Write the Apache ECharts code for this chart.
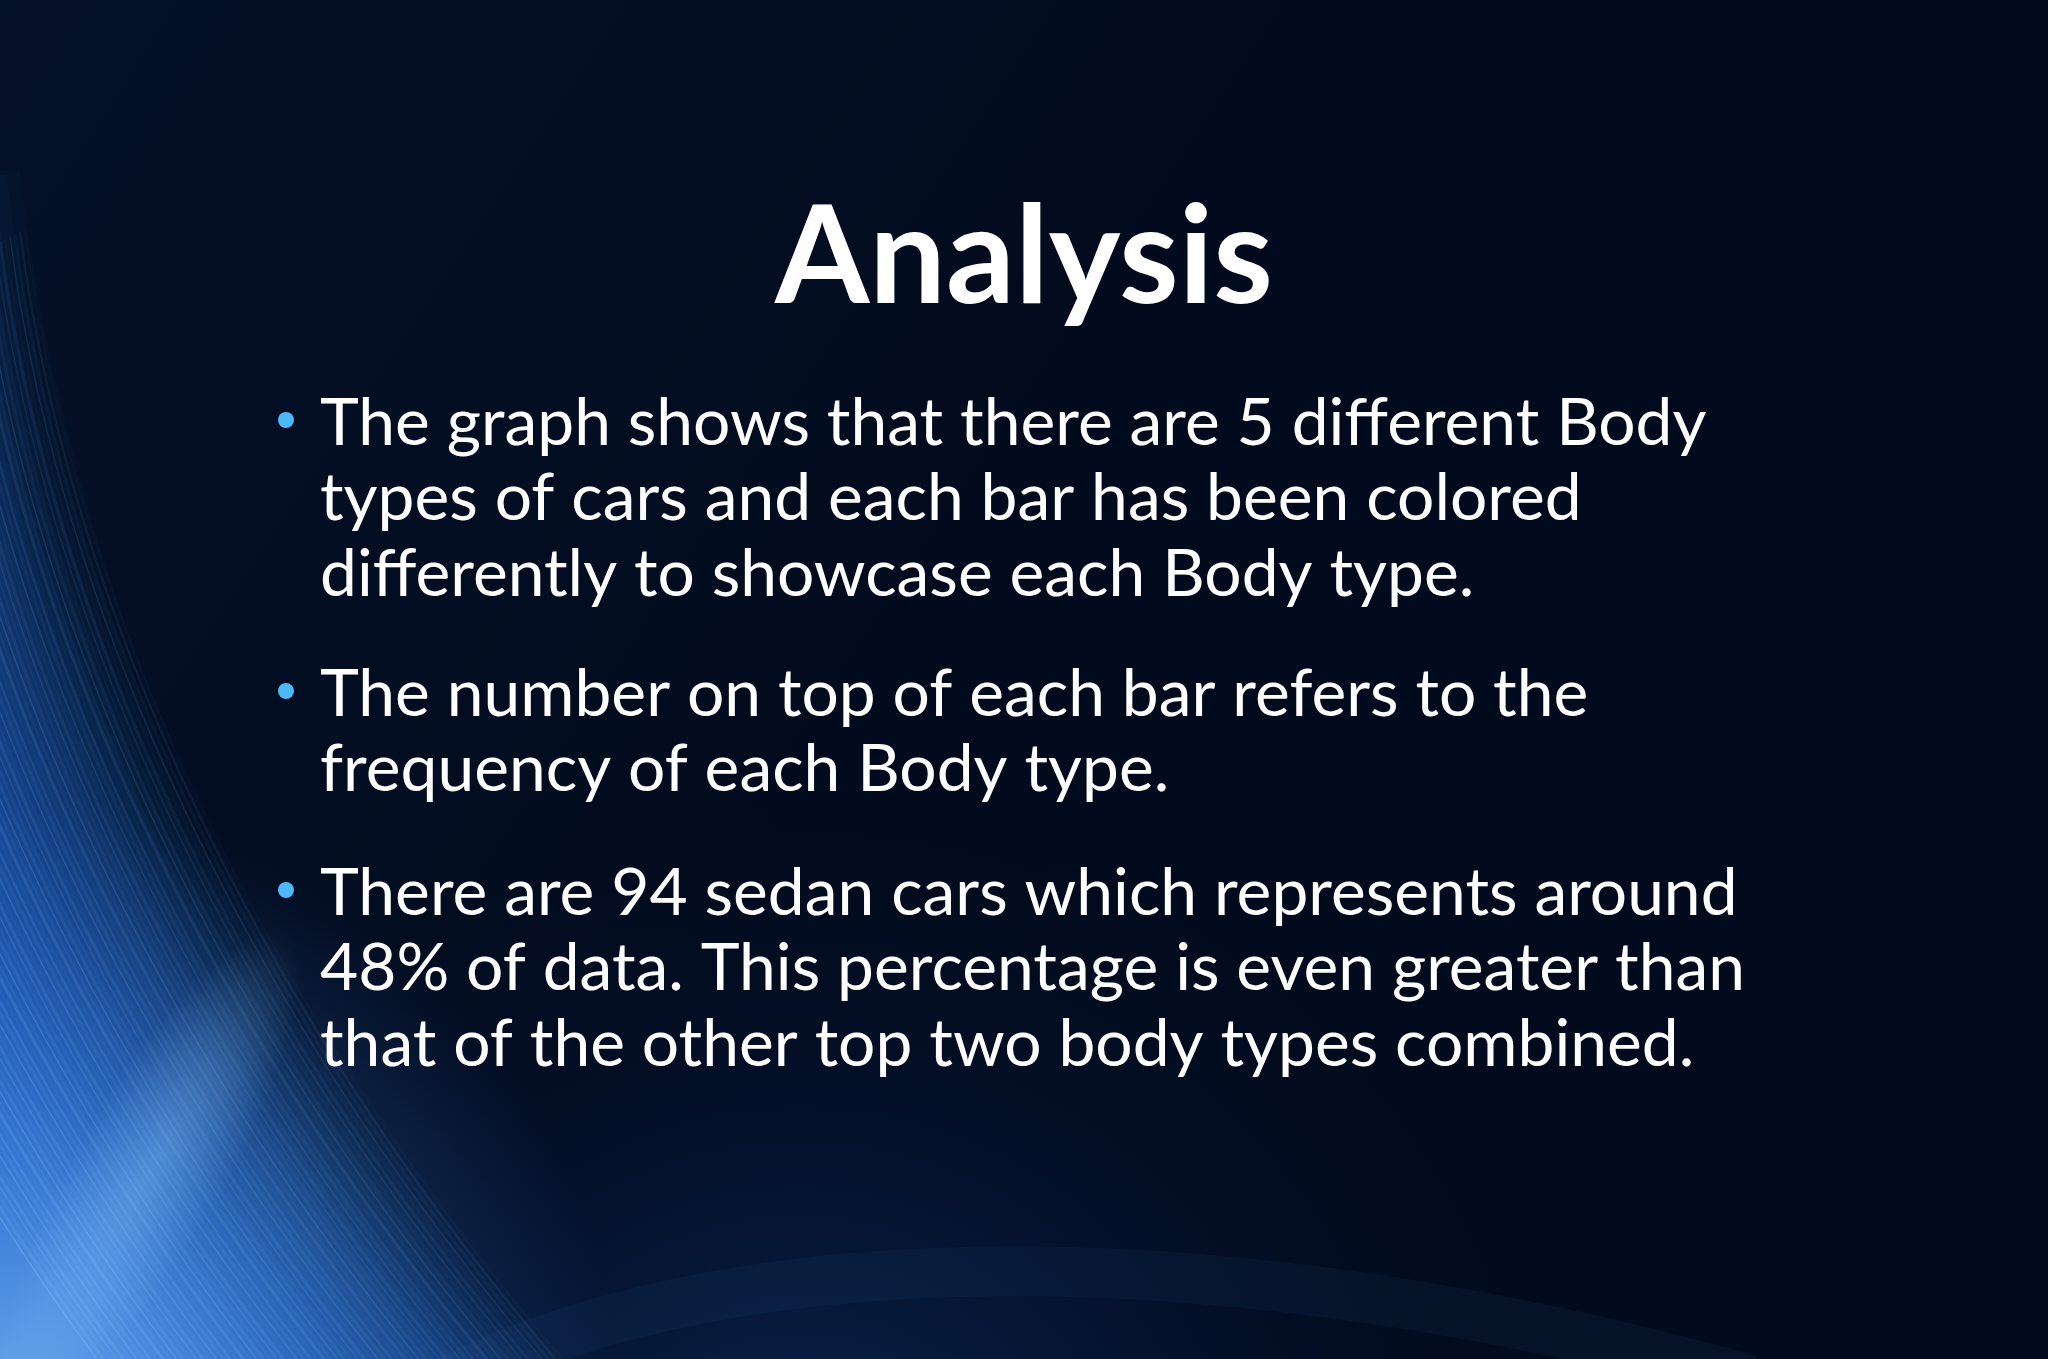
<!DOCTYPE html>
<html><head><meta charset="utf-8">
<script src="https://cdn.jsdelivr.net/npm/echarts@6/dist/echarts.min.js"></script>
<style>html,body{margin:0;padding:0;background:#020b1e;overflow:hidden}#main{width:2048px;height:1359px;}</style>
</head><body><div id="main"></div>
<script>
// ---- content ----
const titleText = 'Analysis';
const bullet1 = ['The graph shows that there are 5 different Body', 'types of cars and each bar has been colored', 'differently to showcase each Body type.'];
const bullet2 = ['The number on top of each bar refers to the', 'frequency of each Body type.'];
const bullet3 = ['There are 94 sedan cars which represents around', '48% of data. This percentage is even greater than', 'that of the other top two body types combined.'];
const bullets = [bullet1, bullet2, bullet3];

// ---- layout ----
const W = 2048, H = 1359;
const fontFamily = 'Lato, "Open Sans", sans-serif';
const textX = 320, bulletX = 286;
const groupBaselines = [445, 716, 915];
const lineStep = 75.3;
const titleBaseline = 303;

const cv = document.createElement('canvas').getContext('2d');
function fitSize(text, weight, targetW) {
  cv.font = weight + ' 100px ' + fontFamily;
  return 100 * targetW / cv.measureText(text).width;
}
function middleToBaseline(size, weight) {
  cv.font = weight + ' ' + size + 'px ' + fontFamily;
  cv.textBaseline = 'alphabetic';
  const a = cv.measureText('H').actualBoundingBoxAscent;
  cv.textBaseline = 'middle';
  const m = cv.measureText('H').actualBoundingBoxAscent;
  cv.textBaseline = 'alphabetic';
  return a - m;
}
const bodySize = fitSize(bullet3[1], 'normal', 1425);
const titleSize = fitSize(titleText, 'bold', 498);
const bodyOff = middleToBaseline(bodySize, 'normal');
const titleOff = middleToBaseline(titleSize, 'bold');

function bez(p0, p1, p2, p3, n) {
  const pts = [];
  for (let i = 0; i <= n; i++) {
    const t = i / n, u = 1 - t;
    pts.push([u*u*u*p0[0] + 3*u*u*t*p1[0] + 3*u*t*t*p2[0] + t*t*t*p3[0],
              u*u*u*p0[1] + 3*u*u*t*p1[1] + 3*u*t*t*p2[1] + t*t*t*p3[1]]);
  }
  return pts;
}

const elements = [];
// background base
elements.push({type: 'rect', shape: {x: 0, y: 0, width: W, height: H}, silent: true,
  style: {fill: {type: 'linear', x: 0, y: 0, x2: 1, y2: 1, colorStops: [
    {offset: 0, color: '#051129'}, {offset: 0.45, color: '#020b1d'}, {offset: 1, color: '#020b1e'}]}}});
// faint bottom glow
elements.push({type: 'rect', shape: {x: 0, y: 0, width: W, height: H}, silent: true,
  style: {fill: {type: 'radial', x: 800, y: 1560, r: 760, global: true, colorStops: [
    {offset: 0, color: 'rgba(25,80,165,0.45)'}, {offset: 0.6, color: 'rgba(12,45,110,0.15)'}, {offset: 1, color: 'rgba(5,20,50,0)'}]}}});
// faint bottom arc
elements.push({type: 'bezierCurve', silent: true,
  shape: {x1: 450, y1: 1380, cpx1: 750, cpy1: 1230, cpx2: 1250, cpy2: 1240, x2: 1750, y2: 1380},
  style: {stroke: 'rgba(70,130,210,0.06)', lineWidth: 50, fill: null}});

// curtain layers (soft edge)
const B = {p0: [20, 170], p1: [75, 650], p2: [300, 1080], p3: [620, 1430]};
for (let k = 0; k < 24; k++) {
  const dx = -k * 13, dy = k * 5;
  const sh = p => [p[0] + dx, p[1] + dy];
  const pts = bez(sh(B.p0), sh(B.p1), sh(B.p2), sh(B.p3), 48);
  pts.push([-20, 1430]); pts.push([-20, 170 + dy]);
  const a = k < 4 ? 0.03 + k * 0.009 : 0.072;
  elements.push({type: 'polygon', silent: true, shape: {points: pts},
    style: {fill: 'rgba(42,120,220,' + a.toFixed(3) + ')'}});
}
// corner glow
elements.push({type: 'rect', shape: {x: 0, y: 0, width: W, height: H}, silent: true,
  style: {fill: {type: 'radial', x: 0, y: 1420, r: 620, global: true, colorStops: [
    {offset: 0, color: 'rgba(130,195,255,0.8)'}, {offset: 0.5, color: 'rgba(75,150,240,0.38)'}, {offset: 1, color: 'rgba(40,100,200,0)'}]}}});
// highlight ridge (stretched soft ellipse)
elements.push({type: 'rect', silent: true, shape: {x: -250, y: -250, width: 500, height: 500},
  x: 150, y: 1170, rotation: 1.05, scaleX: 1.1, scaleY: 0.3,
  style: {fill: {type: 'radial', x: 0.5, y: 0.5, r: 0.5, colorStops: [
    {offset: 0, color: 'rgba(140,200,255,0.38)'}, {offset: 1, color: 'rgba(140,200,255,0)'}]}}});
// streak lines
const alphas = [0.06, 0.14, 0.09, 0.2, 0.05, 0.12, 0.17, 0.07, 0.1, 0.22, 0.08, 0.15];
for (let k = 0; k < 70; k++) {
  const dx = -k * 5 + 5, dy = k * 2.2;
  const a = alphas[k % alphas.length] * (0.45 + k / 90);
  elements.push({type: 'bezierCurve', silent: true,
    shape: {x1: B.p0[0] + dx, y1: B.p0[1] + dy + 60, cpx1: B.p1[0] + dx, cpy1: B.p1[1] + dy,
      cpx2: B.p2[0] + dx, cpy2: B.p2[1] + dy, x2: B.p3[0] + dx, y2: B.p3[1] + dy},
    style: {stroke: 'rgba(150,205,255,' + a.toFixed(3) + ')', lineWidth: 1.5 + (k % 3) * 0.8, fill: null}});
}

// title
elements.push({type: 'text', silent: true, x: W / 2, y: titleBaseline - titleOff,
  style: {text: titleText, fill: '#ffffff', font: 'bold ' + titleSize.toFixed(1) + 'px ' + fontFamily,
    align: 'center', verticalAlign: 'middle'}});
// bullets
bullets.forEach((lines, gi) => {
  const b0 = groupBaselines[gi];
  elements.push({type: 'circle', silent: true, shape: {cx: bulletX, cy: b0 - 25, r: 8},
    style: {fill: '#4db8f8'}});
  lines.forEach((ln, li) => {
    elements.push({type: 'text', silent: true, x: textX, y: b0 + li * lineStep - bodyOff,
      style: {text: ln, fill: '#ffffff', font: 'normal ' + bodySize.toFixed(1) + 'px ' + fontFamily,
        align: 'left', verticalAlign: 'middle'}});
  });
});

const chart = echarts.init(document.getElementById('main'), null, {renderer: 'canvas'});
chart.setOption({backgroundColor: '#020b1d', animation: false, graphic: {elements: elements}});
</script>
</body></html>
